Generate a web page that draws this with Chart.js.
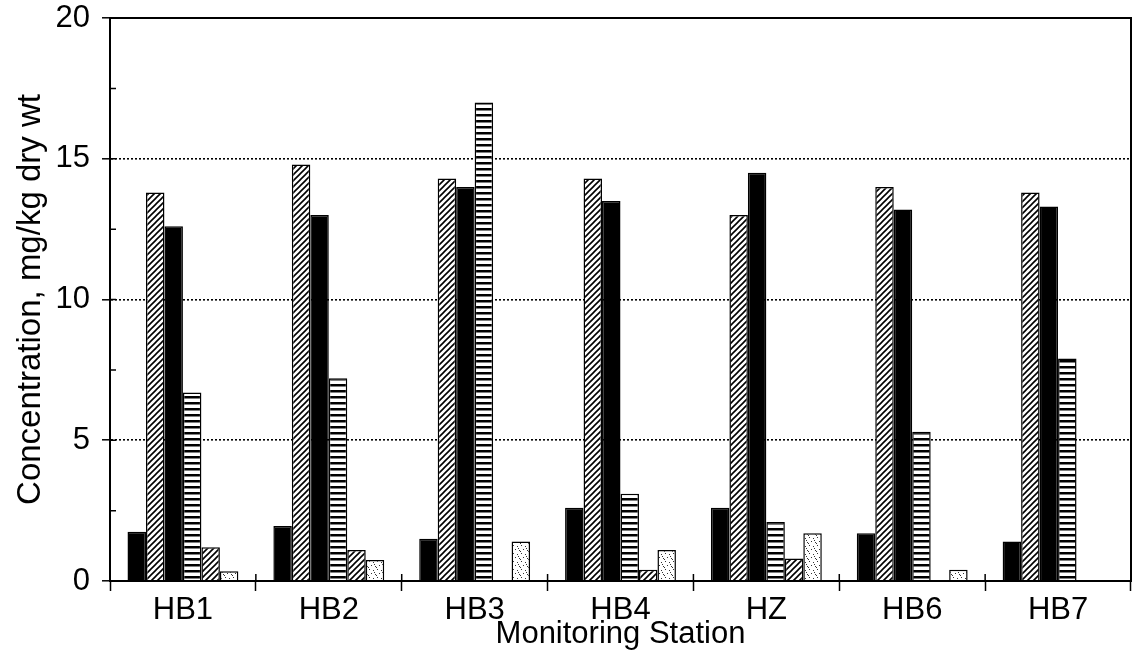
<!DOCTYPE html>
<html>
<head>
<meta charset="utf-8">
<script src="https://cdn.jsdelivr.net/npm/chart.js@4/dist/chart.umd.min.js"></script>
<style>
  html, body { margin: 0; padding: 0; background: #fff; }
  #wrap { width: 1136px; height: 666px; }
</style>
</head>
<body>
<div id="wrap"><canvas id="concChart"></canvas></div>
<script>
// ---------- DATA ----------
const stations = ["HB1", "HB2", "HB3", "HB4", "HZ", "HB6", "HB7"];
const yTicks = [0, 5, 10, 15, 20];

const seriesA = [1.75, 1.95, 1.5, 2.6, 2.6, 1.7, 1.4];       // solid black
const seriesB = [13.8, 14.8, 14.3, 14.3, 13.0, 14.0, 13.8];  // diagonal hatch
const seriesC = [12.6, 13.0, 14.0, 13.5, 14.5, 13.2, 13.3];  // solid black
const seriesD = [6.7, 7.2, 17.0, 3.1, 2.1, 5.3, 7.9];        // horizontal stripes
const seriesE = [1.2, 1.1, null, 0.4, 0.8, null, null];      // small hatch
const seriesF = [0.35, 0.75, 1.4, 1.1, 1.7, 0.4, null];      // stipple

// ---------- PATTERNS ----------
function makeTile(w, h, draw) {
  const c = document.createElement("canvas");
  c.width = w;
  c.height = h;
  const g = c.getContext("2d");
  g.fillStyle = "#fff";
  g.fillRect(0, 0, w, h);
  draw(g);
  return g.createPattern(c, "repeat");
}

const diagHatch = makeTile(6, 6, g => {
  g.strokeStyle = "#000";
  g.lineWidth = 1.6;
  g.beginPath();
  g.moveTo(-1, 7); g.lineTo(7, -1);
  g.moveTo(-4, 4); g.lineTo(4, -4);
  g.moveTo(2, 10); g.lineTo(10, 2);
  g.stroke();
});

const hStripes = makeTile(6, 6, g => {
  g.fillStyle = "#000";
  g.fillRect(0, 0, 6, 2.5);
});

const stipple = makeTile(8, 8, g => {
  g.fillStyle = "#333";
  [[1, 1], [5, 2], [3, 5], [7, 6], [0, 7], [6, 4]].forEach(p => g.fillRect(p[0], p[1], 1, 1));
});

// ---------- EXTRA AXIS MARKS ----------
const framePlugin = {
  id: "frame",
  afterDraw(chart) {
    const { ctx, chartArea, scales } = chart;
    ctx.save();
    ctx.strokeStyle = "#000";
    ctx.lineWidth = 2;
    ctx.strokeRect(chartArea.left, chartArea.top, chartArea.right - chartArea.left, chartArea.bottom - chartArea.top);

    // inner ticks on the y axis (major and minor)
    const y = scales.y;
    ctx.lineWidth = 1.5;
    ctx.beginPath();
    for (let v = 0; v <= 20; v += 2.5) {
      const py = y.getPixelForValue(v);
      ctx.moveTo(chartArea.left, py);
      ctx.lineTo(chartArea.left + 6, py);
    }
    // inner part of the x category ticks
    const x = scales.x;
    const step = (x.right - x.left) / stations.length;
    for (let i = 0; i < stations.length; i++) {
      const px = x.left + i * step;
      ctx.moveTo(px, chartArea.bottom);
      ctx.lineTo(px, chartArea.bottom - 7);
    }
    ctx.stroke();
    ctx.restore();
  }
};

// ---------- CHART ----------
const font = { family: "'Liberation Sans', Arial, sans-serif", size: 31 };
const yTitleFont = { family: "'Liberation Sans', Arial, sans-serif", size: 33 };

function bars(data, fill) {
  return {
    data,
    backgroundColor: fill,
    borderColor: "#000",
    borderWidth: 1.5,
    borderSkipped: "bottom",
    categoryPercentage: 0.76,
    barPercentage: 1.0
  };
}

new Chart(document.getElementById("concChart"), {
  type: "bar",
  data: {
    labels: stations,
    datasets: [
      bars(seriesA, "#000"),
      bars(seriesB, diagHatch),
      bars(seriesC, "#000"),
      bars(seriesD, hStripes),
      bars(seriesE, diagHatch),
      bars(seriesF, stipple)
    ]
  },
  plugins: [framePlugin],
  options: {
    responsive: true,
    maintainAspectRatio: false,
    animation: false,
    layout: { padding: { top: 18, right: 5, bottom: 0, left: 0 } },
    plugins: {
      legend: { display: false },
      tooltip: { enabled: false }
    },
    scales: {
      x: {
        afterFit: s => { s.height = 85; },
        grid: {
          drawOnChartArea: false,
          drawTicks: true,
          tickLength: 10,
          tickColor: "#000",
          tickWidth: 1.5,
          offset: true
        },
        border: { display: true, color: "#000", width: 2 },
        ticks: { color: "#000", font, padding: 1, maxRotation: 0 },
        title: {
          display: true,
          text: "Monitoring Station",
          color: "#000",
          font,
          padding: { top: 0, bottom: 13 }
        }
      },
      y: {
        min: 0,
        max: 20,
        afterFit: s => { s.width = 110; s.paddingTop = 0; s.paddingBottom = 0; },
        afterBuildTicks: s => {
          const t = [];
          for (let v = 0; v <= 20; v += 2.5) t.push({ value: v });
          s.ticks = t;
        },
        grid: {
          color: c => (c.tick && c.tick.value % 5 === 0 && c.tick.value > 0 && c.tick.value < 20) ? "#000" : "rgba(0,0,0,0)",
          lineWidth: 1.6,
          tickLength: 8,
          tickColor: c => (c.tick && yTicks.includes(c.tick.value)) ? "#000" : "rgba(0,0,0,0)",
          tickWidth: 1.5
        },
        border: { display: true, color: "#000", width: 2, dash: [2, 2] },
        ticks: {
          color: "#000",
          font,
          padding: 12,
          callback: v => (yTicks.includes(v) ? String(v) : "")
        },
        title: {
          display: true,
          text: "Concentration, mg/kg dry wt",
          color: "#000",
          font: yTitleFont,
          padding: { top: 11, bottom: 0 }
        }
      }
    }
  }
});
</script>
</body>
</html>
